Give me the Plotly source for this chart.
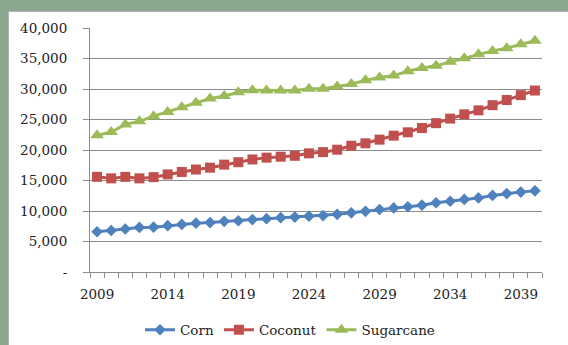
import plotly.graph_objects as go

# Projected production by year
years = list(range(2009, 2041))

corn = [6600, 6800, 7050, 7300, 7350, 7600, 7800, 8000, 8100, 8300, 8400, 8600,
        8750, 8900, 9000, 9150, 9250, 9450, 9700, 9950, 10250, 10500, 10700, 10950,
        11350, 11600, 11900, 12150, 12550, 12850, 13100, 13300]

coconut = [15600, 15350, 15600, 15350, 15550, 16000, 16400, 16800, 17100, 17600, 18000, 18450,
           18750, 18900, 19050, 19450, 19650, 20050, 20700, 21100, 21700, 22350, 22900, 23600,
           24400, 25150, 25850, 26500, 27350, 28200, 29000, 29750]

sugarcane = [22400, 22950, 24200, 24700, 25550, 26250, 27000, 27750, 28450, 28850, 29450, 29800,
             29750, 29750, 29750, 30050, 30050, 30400, 30800, 31450, 31900, 32200, 32900, 33450,
             33800, 34450, 35050, 35700, 36250, 36700, 37350, 37900]

x_labels = [2009, 2014, 2019, 2024, 2029, 2034, 2039]
y_ticks = [0, 5000, 10000, 15000, 20000, 25000, 30000, 35000, 40000]
y_labels = ["-"] + [f"{v:,}" for v in y_ticks[1:]]

W, H = 568, 345
L, R, T, B = 90, 26, 28, 73
pw, ph = W - L - R, H - T - B

FONT = "DejaVu Serif"
GRID = "#8c8c8c"
TEXT = "#222222"

fig = go.Figure()
series = [
    ("Corn", corn, "#4F81BD", "diamond", 9),
    ("Coconut", coconut, "#C0504D", "square", 10),
    ("Sugarcane", sugarcane, "#9BBB59", "triangle-up", 12),
]
for name, vals, color, symbol, size in series:
    fig.add_trace(go.Scatter(
        x=years, y=vals, name=name, mode="lines+markers",
        line=dict(color=color, width=3),
        marker=dict(symbol=symbol, size=size, color=color),
    ))

def px_x(p):
    return (p - L) / pw

def px_y(p):
    return (H - B - p) / ph

# white chart card over the tinted background
fig.add_shape(type="rect", xref="paper", yref="paper", layer="below",
              x0=px_x(8), x1=px_x(W + 5), y0=px_y(H + 5), y1=px_y(11),
              fillcolor="white", line=dict(color="#9a9a9a", width=1.5))

fig.update_layout(
    width=W, height=H,
    margin=dict(l=L, r=R, t=T, b=B, autoexpand=False),
    paper_bgcolor="#8BA88F",
    plot_bgcolor="rgba(0,0,0,0)",
    font=dict(family=FONT, size=13.5, color=TEXT),
    showlegend=True,
    legend=dict(orientation="h", xref="container", x=290 / W, xanchor="center",
                yref="container", y=1 - 330 / H, yanchor="middle",
                font=dict(family=FONT, size=13.5, color=TEXT),
                itemwidth=30, tracegroupgap=0, bgcolor="rgba(0,0,0,0)"),
)

fig.update_xaxes(
    range=[2008.5, 2040.5],
    tickvals=x_labels, ticktext=[str(v) for v in x_labels],
    ticks="", showgrid=False, zeroline=False,
    showline=True, linecolor=GRID, linewidth=1,
    ticklabelstandoff=10,
    minor=dict(tick0=2008.5, dtick=1, ticks="outside", ticklen=5,
               tickcolor=GRID, tickwidth=1, showgrid=False),
)
fig.update_yaxes(
    range=[0, 40000],
    tickvals=y_ticks, ticktext=y_labels,
    ticks="outside", ticklen=6, tickcolor=GRID, tickwidth=1,
    showgrid=True, gridcolor=GRID, gridwidth=1,
    zeroline=False, showline=True, linecolor=GRID, linewidth=1,
    ticklabelstandoff=13,
)

fig.write_html("out.html")
